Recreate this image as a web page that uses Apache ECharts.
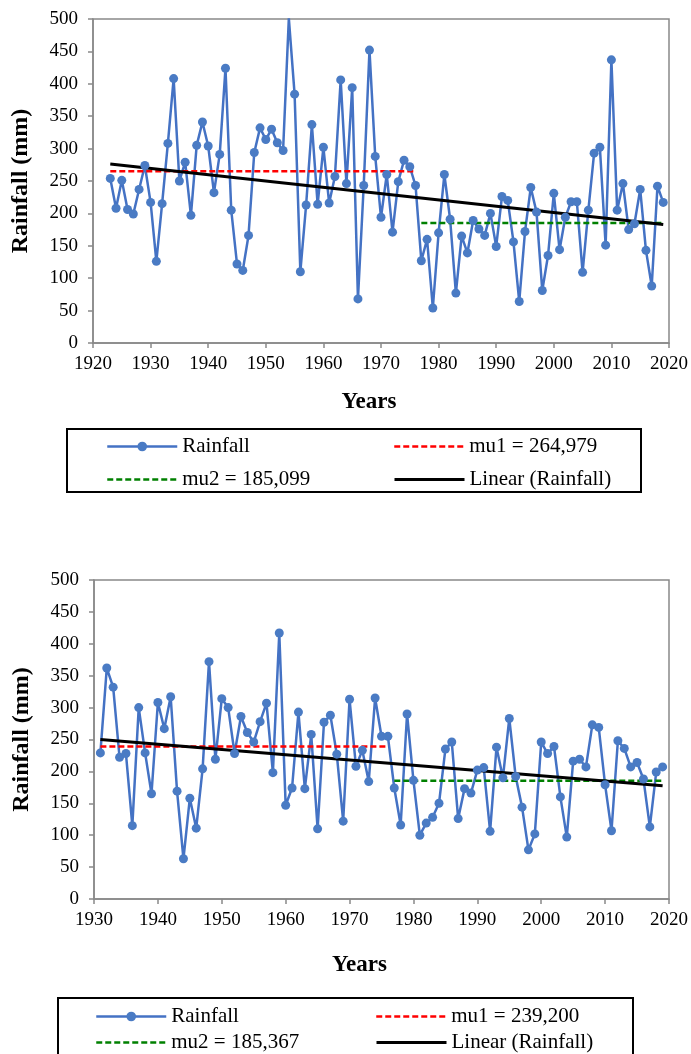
<!DOCTYPE html>
<html>
<head>
<meta charset="utf-8">
<script src="https://cdn.jsdelivr.net/npm/echarts@6/dist/echarts.min.js"></script>
<style>
  html, body { margin: 0; padding: 0; background: #fff; }
  #chart { width: 691px; height: 1054px; }
</style>
</head>
<body>
<div id="chart"></div>
<script>
// top chart: 1923-2019
var firstYear1 = 1923;
var rain1 = [254, 208, 251, 206, 199, 237, 274, 217, 126, 215,
  308, 408, 250, 279, 197, 305, 341, 304, 232, 291,
  424, 205, 122, 112, 166, 294, 332, 314, 330, 309, 297,
  501, 384, 110, 213, 337, 214, 302, 216, 257, 406, 246,
  394, 68, 243, 452, 288, 194, 260, 171, 249, 282, 272, 243,
  127, 160, 54, 170, 260, 191, 77, 165, 139, 189,
  176, 166, 200, 149, 226, 220, 156, 64, 172, 240,
  202, 81, 135, 231, 144, 194, 218, 218, 109, 205,
  293, 302, 151, 437, 205, 246, 175, 184, 237, 143, 88, 242, 217];
var mu1Top = 264.979, mu1TopYears = [1923, 1976];
var mu2Top = 185.099, mu2TopYears = [1977, 2019];

// bottom chart: 1931-2019
var firstYear2 = 1931;
var rain2 = [229, 362, 332, 222, 228, 115, 300, 229, 165, 308,
  267, 317, 169, 63, 158, 111, 204, 372, 219, 314,
  300, 228, 286, 261, 246, 278, 307, 198, 417, 147,
  174, 293, 173, 258, 110, 277, 288, 227, 122, 313,
  208, 233, 184, 315, 255, 255,
  174, 116, 290, 186, 100, 119, 128, 150, 235, 246,
  126, 173, 166, 202, 206, 106, 238, 190, 283, 192,
  144, 77, 102, 246, 228, 239, 160, 97, 216, 219,
  207, 273, 269, 179, 107, 248, 236, 207, 214, 188, 113, 199, 207];
var mu1Bot = 239.200, mu1BotYears = [1931, 1976];
var mu2Bot = 185.367, mu2BotYears = [1977, 2019];

var mu1TopLabel = 'mu1 = 264,979', mu2TopLabel = 'mu2 = 185,099';
var mu1BotLabel = 'mu1 = 239,200', mu2BotLabel = 'mu2 = 185,367';

var FONT = '"Liberation Serif", "Times New Roman", serif';
var AXIS_GRAY = '#898989';
var NO_DOT = 'rgba(0,0,0,0)';

function pairs(first, vals) {
  var out = [];
  for (var i = 0; i < vals.length; i++) out.push([first + i, vals[i]]);
  return out;
}
// least squares trend (Excel "Linear")
function trend(first, vals) {
  var n = vals.length, sx = 0, sy = 0, sxx = 0, sxy = 0;
  for (var i = 0; i < n; i++) {
    var x = first + i;
    sx += x; sy += vals[i]; sxx += x * x; sxy += x * vals[i];
  }
  var b = (n * sxy - sx * sy) / (n * sxx - sx * sx);
  var a = (sy - b * sx) / n;
  var x0 = first, x1 = first + n - 1;
  return [[x0, a + b * x0], [x1, a + b * x1]];
}

function xAx(idx, min, padRight, gap) {
  return {
    gridIndex: idx, type: 'value', min: min, max: 2020, interval: 10,
    name: 'Years', nameLocation: 'middle', nameGap: gap,
    nameTextStyle: { fontFamily: FONT, fontSize: 23, fontWeight: 'bold', color: '#000', padding: [0, padRight, 0, 0] },
    axisLine: { lineStyle: { color: AXIS_GRAY, width: 1.5 } },
    axisTick: { length: 5, lineStyle: { color: AXIS_GRAY, width: 1.5 } },
    axisLabel: { margin: 12, fontFamily: FONT, fontSize: 19, color: '#000', formatter: function (v) { return String(v); } },
    splitLine: { show: false }
  };
}
function yAx(idx) {
  return {
    gridIndex: idx, type: 'value', min: 0, max: 500, interval: 50,
    name: 'Rainfall (mm)', nameLocation: 'middle', nameGap: 60,
    nameTextStyle: { fontFamily: FONT, fontSize: 24, fontWeight: 'bold', color: '#000' },
    axisLine: { show: true, lineStyle: { color: AXIS_GRAY, width: 1.5 } },
    axisTick: { show: true, length: 5, lineStyle: { color: AXIS_GRAY, width: 1.5 } },
    axisLabel: { margin: 15, fontFamily: FONT, fontSize: 19, color: '#000' },
    splitLine: { show: false }
  };
}
function seriesFor(idx, first, vals, mu1, mu1Years, mu1Name, mu2, mu2Years, mu2Name) {
  return [
    {
      name: 'Rainfall', type: 'line', xAxisIndex: idx, yAxisIndex: idx,
      data: pairs(first, vals), symbol: 'circle', symbolSize: 9, clip: true,
      lineStyle: { color: '#4472C4', width: 2.5 },
      itemStyle: { color: '#4A7BC4' }
    },
    {
      name: mu1Name, type: 'line', xAxisIndex: idx, yAxisIndex: idx, symbol: 'none',
      data: [[mu1Years[0], mu1], [mu1Years[1], mu1]],
      itemStyle: { color: NO_DOT },
      lineStyle: { color: '#FF0000', width: 2.5, type: [6, 3] }
    },
    {
      name: mu2Name, type: 'line', xAxisIndex: idx, yAxisIndex: idx, symbol: 'none',
      data: [[mu2Years[0], mu2], [mu2Years[1], mu2]],
      itemStyle: { color: NO_DOT },
      lineStyle: { color: '#008000', width: 2.5, type: [6, 3] }
    },
    {
      name: 'Linear (Rainfall)', type: 'line', xAxisIndex: idx, yAxisIndex: idx, symbol: 'none',
      data: trend(first, vals),
      itemStyle: { color: NO_DOT },
      lineStyle: { color: '#000', width: 3 }
    }
  ];
}
function leg(name, left, top) {
  return {
    data: [name], left: left, top: top, padding: 0,
    itemWidth: 70, itemHeight: 12, itemGap: 6,
    selectedMode: false,
    lineStyle: { width: 'inherit' },
    textStyle: { fontFamily: FONT, fontSize: 21, color: '#000' }
  };
}

var chart = echarts.init(document.getElementById('chart'));
chart.setOption({
  animation: false,
  grid: [
    { left: 93, top: 19, width: 578, height: 324, show: true, borderColor: AXIS_GRAY, borderWidth: 1.5 },
    { left: 94, top: 580, width: 578, height: 319, show: true, borderColor: AXIS_GRAY, borderWidth: 1.5 }
  ],
  xAxis: [xAx(0, 1920, 24, 48), xAx(1, 1930, 44, 55)],
  yAxis: [yAx(0), yAx(1)],
  legend: [
    leg('Rainfall', 106, 436),
    leg(mu1TopLabel, 393, 436),
    leg(mu2TopLabel, 106, 469),
    leg('Linear (Rainfall)', 393, 469),
    leg('Rainfall', 95, 1006),
    leg(mu1BotLabel, 375, 1006),
    leg(mu2BotLabel, 95, 1032),
    leg('Linear (Rainfall)', 375, 1032)
  ],
  graphic: [
    { type: 'rect', shape: { x: 67, y: 429, width: 574, height: 63 }, style: { fill: 'none', stroke: '#000', lineWidth: 2 } },
    { type: 'rect', shape: { x: 58, y: 998, width: 575, height: 62 }, style: { fill: 'none', stroke: '#000', lineWidth: 2 } }
  ],
  series: [].concat(
    seriesFor(0, firstYear1, rain1, mu1Top, mu1TopYears, mu1TopLabel, mu2Top, mu2TopYears, mu2TopLabel),
    seriesFor(1, firstYear2, rain2, mu1Bot, mu1BotYears, mu1BotLabel, mu2Bot, mu2BotYears, mu2BotLabel)
  )
});
</script>
</body>
</html>
